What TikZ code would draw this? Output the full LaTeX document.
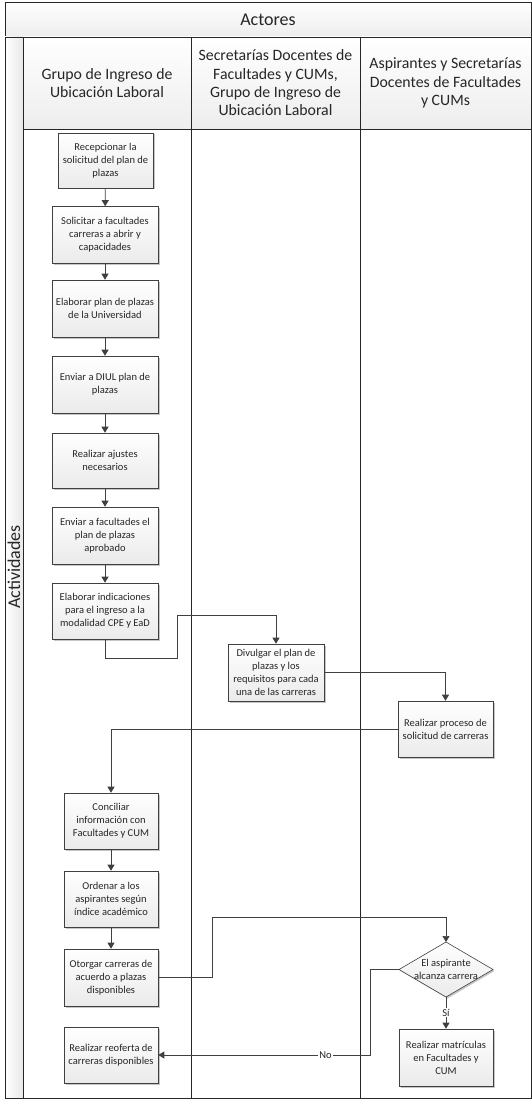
\documentclass[tikz,border=0pt]{standalone}
\usepackage{fontspec}
\setmainfont{Carlito}
\usetikzlibrary{shadows,arrows.meta}
\definecolor{lanec}{HTML}{262626}
\definecolor{linec}{HTML}{404040}
\begin{document}
\begin{tikzpicture}[x=1pt,y=-1pt,
  lane/.style={draw=lanec,line width=0.8pt},
  hdr/.style={lane,top color=white,bottom color=gray!14},
  hdrtxt/.style={align=center,font=\fontsize{15.8}{18.3}\selectfont,text=black!85},
  act/.style={draw=linec,line width=0.6pt,top color=white,bottom color=gray!16,
    align=center,inner sep=1pt,font=\fontsize{10.5}{13}\selectfont,text=black!85,
    drop shadow={shadow xshift=1.5pt,shadow yshift=-1.5pt,fill=gray!45,opacity=1}},
  flow/.style={draw=linec,line width=0.7pt,-{Triangle[length=6pt,width=7pt]}},
  lbl/.style={fill=white,inner sep=1pt,font=\fontsize{10.5}{12}\selectfont,text=black!85}]
\useasboundingbox (0,0) rectangle (532,1099);
% lanes
\path[hdr] (5,2) rectangle (531,37);
\node[hdrtxt,font=\fontsize{18}{21}\selectfont] (tact) at (268,19.5) {Actores};
\path[lane,left color=white,right color=gray!18] (5,37) rectangle (23,1098);
\node[hdrtxt,font=\fontsize{18}{21}\selectfont,rotate=90] (tacv) at (14,567) {Actividades};
\path[hdr] (23,37) rectangle (191,129);
\path[hdr] (191,37) rectangle (360,129);
\path[hdr] (360,37) rectangle (531,129);
\path[lane] (23,129) rectangle (191,1098);
\path[lane] (191,129) rectangle (360,1098);
\path[lane] (360,129) rectangle (531,1098);
\node[hdrtxt] (h1) at (107,83) {Grupo de Ingreso de\\Ubicación Laboral};
\node[hdrtxt] (h2) at (275.5,83) {Secretarías Docentes de\\Facultades y CUMs,\\Grupo de Ingreso de\\Ubicación Laboral};
\node[hdrtxt] (h3) at (445.5,83) {Aspirantes y Secretarías\\Docentes de Facultades\\y CUMs};
% activities
\node[act,minimum width=95,minimum height=55] (b1) at (105.5,160.5) {Recepcionar la\\solicitud del plan de\\plazas};
\node[act,minimum width=106,minimum height=57] (b2) at (105,235) {Solicitar a facultades\\carreras a abrir y\\capacidades};
\node[act,minimum width=106,minimum height=57] (b3) at (105,308.5) {Elaborar plan de plazas\\de la Universidad};
\node[act,minimum width=106,minimum height=57] (b4) at (105,384.5) {Enviar a DIUL plan de\\plazas};
\node[act,minimum width=106,minimum height=55] (b5) at (105,460.5) {Realizar ajustes\\necesarios};
\node[act,minimum width=106,minimum height=57] (b6) at (105,535.5) {Enviar a facultades el\\plan de plazas\\aprobado};
\node[act,minimum width=106,minimum height=56] (b7) at (105,611) {Elaborar indicaciones\\para el ingreso a la\\modalidad CPE y EaD};
\node[act,minimum width=96,minimum height=57] (b8) at (276,672.5) {Divulgar el plan de\\plazas y los\\requisitos para cada\\una de las carreras};
\node[act,minimum width=95,minimum height=56] (b9) at (445.5,729) {Realizar proceso de\\solicitud de carreras};
\node[act,minimum width=94,minimum height=56] (b10) at (111,821) {Conciliar\\información con\\Facultades y CUM};
\node[act,minimum width=94,minimum height=56] (b11) at (111,899) {Ordenar a los\\aspirantes según\\índice académico};
\node[act,minimum width=94,minimum height=57] (b12) at (111,977.5) {Otorgar carreras de\\acuerdo a plazas\\disponibles};
\node[act,minimum width=94,minimum height=56] (b13) at (111,1055) {Realizar reoferta de\\carreras disponibles};
\node[act,minimum width=94,minimum height=57] (b14) at (446,1057.5) {Realizar matrículas\\en Facultades y\\CUM};
% decision diamond
\coordinate (dN) at (446,942);
\coordinate (dE) at (493,969.5);
\coordinate (dS) at (446,997);
\coordinate (dW) at (399,969.5);
\path[draw=linec,line width=0.6pt,top color=white,bottom color=gray!16,
  drop shadow={shadow xshift=1.5pt,shadow yshift=-1.5pt,fill=gray!45,opacity=1}]
  (dN) -- (dE) -- (dS) -- (dW) -- cycle;
\node[align=center,inner sep=0pt,font=\fontsize{10.5}{13}\selectfont,text=black!85] (d) at (446,969.5) {El aspirante\\alcanza carrera};
% connectors
\draw[flow] (b1) -- (b2);
\draw[flow] (b2) -- (b3);
\draw[flow] (b3) -- (b4);
\draw[flow] (b4) -- (b5);
\draw[flow] (b5) -- (b6);
\draw[flow] (b6) -- (b7);
\draw[flow] (b7.south) -- ++(0,19) -| (177,615) -| (b8.north);
\draw[flow] (b8.east |- 0,672) -| (b9.north);
\draw[flow] (b9.west) -| (b10.north);
\draw[flow] (b10) -- (b11);
\draw[flow] (b11) -- (b12);
\draw[flow] (b12.east) -| (212,917) -| (dN);
\draw[flow] (dS) -- node[lbl] (lsi) {Sí} (b14.north);
\draw[flow] (dW) -| (370,1055) -- node[pos=0.21,lbl] (lno) {No} (b13.east);
\end{tikzpicture}
\end{document}
